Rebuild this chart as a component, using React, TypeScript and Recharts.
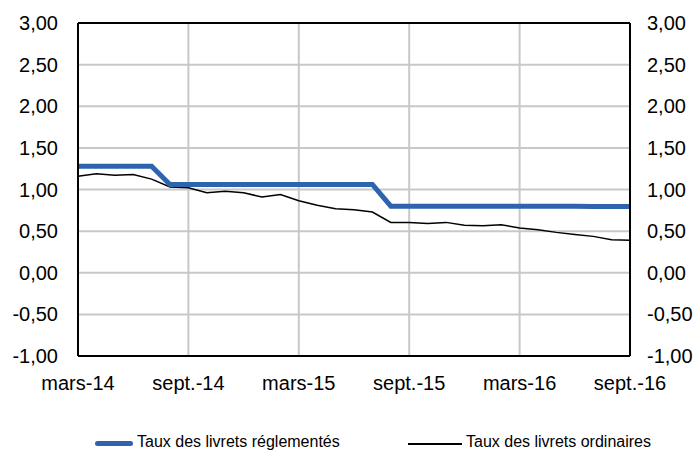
import {
  LineChart, Line, XAxis, YAxis, CartesianGrid, ReferenceLine,
} from 'recharts';

const months = [
  'mars-14', 'avr.-14', 'mai-14', 'juin-14', 'juil.-14', 'août-14', 'sept.-14', 'oct.-14', 'nov.-14', 'déc.-14',
  'janv.-15', 'févr.-15', 'mars-15', 'avr.-15', 'mai-15', 'juin-15', 'juil.-15', 'août-15', 'sept.-15', 'oct.-15',
  'nov.-15', 'déc.-15', 'janv.-16', 'févr.-16', 'mars-16', 'avr.-16', 'mai-16', 'juin-16', 'juil.-16', 'août-16',
  'sept.-16',
];

const reglementes = [
  1.28, 1.28, 1.28, 1.28, 1.28, 1.06, 1.06, 1.06, 1.06, 1.06,
  1.06, 1.06, 1.06, 1.06, 1.06, 1.06, 1.06, 0.8, 0.8, 0.8,
  0.8, 0.8, 0.8, 0.8, 0.8, 0.8, 0.8, 0.8, 0.795, 0.795,
  0.795,
];

const ordinaires = [
  1.16, 1.19, 1.17, 1.18, 1.125, 1.03, 1.02, 0.96, 0.98, 0.96,
  0.91, 0.94, 0.865, 0.81, 0.77, 0.757, 0.73, 0.605, 0.605, 0.593,
  0.605, 0.57, 0.566, 0.577, 0.537, 0.517, 0.485, 0.46, 0.437, 0.397,
  0.39,
];

const xTicks = ['mars-14', 'sept.-14', 'mars-15', 'sept.-15', 'mars-16', 'sept.-16'];
const yTicks = [-1, -0.5, 0, 0.5, 1, 1.5, 2, 2.5, 3];

const data = months.map((m, i) => ({
  month: m,
  reglementes: reglementes[i],
  ordinaires: ordinaires[i],
}));

const BLUE = '#2E64AE';
const FONT = '"Liberation Sans", Arial, sans-serif';
const fmt = (v: number) => v.toFixed(2).replace('.', ',');
const tickStyle = { fontSize: 20, fill: '#000', fontFamily: FONT };

export default function App() {
  return (
    <div style={{ position: 'absolute', left: 0, top: 0, width: 699, height: 453, background: '#fff' }}>
      <LineChart
        width={699}
        height={453}
        data={data}
        margin={{ top: 23, right: 0, left: 0, bottom: 57 }}
      >
        <CartesianGrid stroke="#c8c8c8" strokeWidth={2} yAxisId="left" />
        <XAxis
          dataKey="month"
          ticks={xTicks}
          interval={0}
          height={40}
          tickLine={false}
          tickSize={0}
          tickMargin={20}
          axisLine={{ stroke: '#000', strokeWidth: 2 }}
          tick={tickStyle}
        />
        <YAxis
          yAxisId="left"
          orientation="left"
          width={78}
          domain={[-1, 3]}
          ticks={yTicks}
          tickFormatter={fmt}
          tickLine={false}
          tickSize={0}
          tickMargin={20}
          axisLine={{ stroke: '#000', strokeWidth: 2 }}
          tick={tickStyle}
          allowDataOverflow
        />
        <YAxis
          yAxisId="right"
          orientation="right"
          width={69}
          domain={[-1, 3]}
          ticks={yTicks}
          tickFormatter={fmt}
          tickLine={false}
          tickSize={0}
          tickMargin={17}
          axisLine={{ stroke: '#000', strokeWidth: 2 }}
          tick={{ ...tickStyle, textAnchor: 'start' }}
          allowDataOverflow
        />
        <ReferenceLine yAxisId="left" y={3} stroke="#000" strokeWidth={2} />
        <Line
          yAxisId="left"
          type="linear"
          dataKey="ordinaires"
          stroke="#000"
          strokeWidth={1.5}
          dot={false}
          isAnimationActive={false}
        />
        <Line
          yAxisId="left"
          type="linear"
          dataKey="reglementes"
          stroke={BLUE}
          strokeWidth={5}
          dot={false}
          isAnimationActive={false}
        />
      </LineChart>
      <div style={{ position: 'absolute', left: 0, top: 433, width: 699, height: 20, fontFamily: FONT, fontSize: 16, color: '#000' }}>
        <div style={{ position: 'absolute', left: 95, top: 8, width: 38, height: 5, background: BLUE, borderRadius: 3 }} />
        <div style={{ position: 'absolute', left: 137, top: 0, whiteSpace: 'nowrap' }}>Taux des livrets réglementés</div>
        <div style={{ position: 'absolute', left: 408, top: 9.5, width: 54, height: 2, background: '#000' }} />
        <div style={{ position: 'absolute', left: 466, top: 0, whiteSpace: 'nowrap' }}>Taux des livrets ordinaires</div>
      </div>
    </div>
  );
}
